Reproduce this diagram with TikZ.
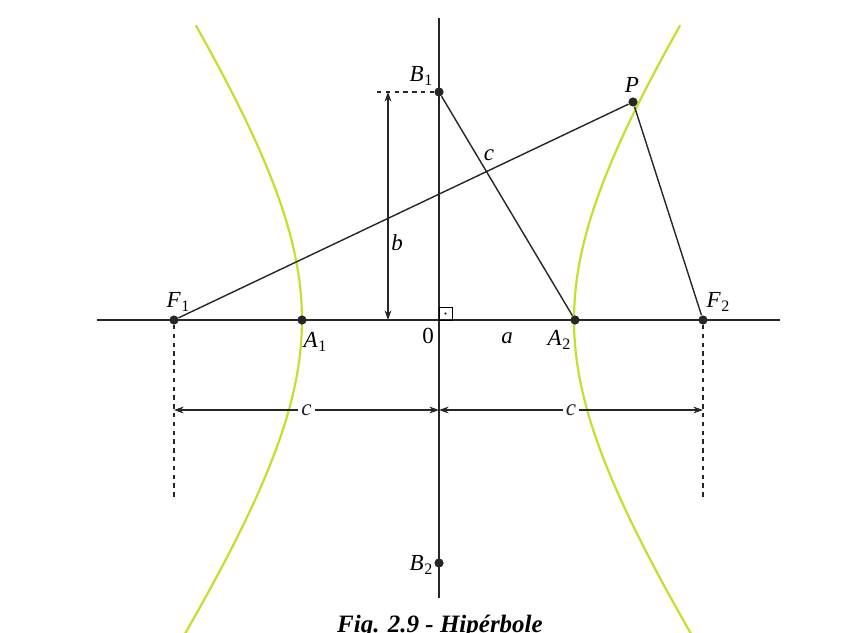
\documentclass[tikz,border=0pt]{standalone}
\usepackage{fontspec}
\setmainfont{Liberation Serif}
\usetikzlibrary{arrows.meta}
\definecolor{hyp}{RGB}{200,222,45}
\newcommand{\lab}[2]{\textit{#1}\kern0.3pt\raisebox{-0.4ex}{\fontsize{8}{9}\selectfont #2}}
\tikzset{
  dot/.style={circle,fill=black!85,inner sep=0pt,minimum size=4.6pt},
  lbl/.style={font=\fontsize{11.5}{13}\selectfont,inner sep=0pt},
  ln/.style={line width=0.7pt,black!85},
  hypline/.style={hyp,line width=1.1pt},
  dim/.style={line width=0.6pt,black!85,{Stealth[length=4.8pt,width=3.4pt]}-{Stealth[length=4.8pt,width=3.4pt]}},
  dsh/.style={line width=0.7pt,black!85,dash pattern=on 2.2pt off 2.2pt},
}
\begin{document}
\begin{tikzpicture}[x=0.5pt,y=-0.5pt]
\useasboundingbox[fill=white] (0,0) rectangle (854,632);
% hyperbola
\draw[hypline] plot[domain=-1.18:1.24,samples=90,variable=\t] ({438+136*cosh(\t)},{320+200*sinh(\t)});
\draw[hypline] plot[domain=-1.18:1.24,samples=90,variable=\t] ({438-136*cosh(\t)},{320+200*sinh(\t)});
% axes
\coordinate (xl) at (97,320);
\coordinate (xr) at (780,320);
\coordinate (yt) at (439,18);
\coordinate (yb) at (439,598);
\draw[ln] (xl) -- (xr);
\draw[ln] (yt) -- (yb);
% points
\node[dot] (F1) at (174,320) {};
\node[dot] (A1) at (302,320) {};
\node[dot] (A2) at (575,320) {};
\node[dot] (F2) at (703,320) {};
\node[dot] (B1) at (439,92) {};
\node[dot] (B2) at (439,563) {};
\node[dot] (P) at (633,102) {};
\coordinate (O) at (439,320);
% lines
\draw[ln] (F1) -- (P);
\draw[ln] (P) -- (F2);
\draw[ln] (B1) -- (A2);
% right angle
\draw[line width=0.5pt] (439,307) rectangle (452,320);
\fill (445.5,313.5) circle (0.6pt);
% b dimension
\coordinate (bl) at (377,92);
\draw[dsh] (bl) -- (B1);
\coordinate (bt) at (388,92);
\coordinate (bb) at (388,320);
\draw[dim] (bb) -- (bt);
% c dimensions
\coordinate (cL) at (174,410);
\coordinate (cM) at (439,410);
\coordinate (cR) at (703,410);
\draw[dim] (cL) -- node[fill=white,inner sep=1.5pt,font=\fontsize{11.5}{13}\selectfont]{\textit{c}} (cM);
\draw[dim] (cM) -- node[fill=white,inner sep=1.5pt,font=\fontsize{11.5}{13}\selectfont]{\textit{c}} (cR);
% dashed verticals
\coordinate (d1) at (174,500);
\coordinate (d2) at (703,500);
\draw[dsh] (F1) -- (d1);
\draw[dsh] (F2) -- (d2);
% labels
\node[lbl] (lB1) at (421,76) {\lab{B}{1}};
\node[lbl] (lP) at (632,85) {\textit{P}};
\node[lbl] (lc) at (489,155) {\textit{c}};
\node[lbl] (lb) at (397,243) {\textit{b}};
\node[lbl] (lF1) at (178,302) {\lab{F}{1}};
\node[lbl] (lA1) at (315,342) {\lab{A}{1}};
\node[lbl] (lO) at (428,336) {0};
\node[lbl] (la) at (507,338) {\textit{a}};
\node[lbl] (lA2) at (559,340) {\lab{A}{2}};
\node[lbl] (lF2) at (718,302) {\lab{F}{2}};
\node[lbl] (lB2) at (421,565) {\lab{B}{2}};
\node[anchor=base,inner sep=0pt] (cap) at (440,632) {\fontsize{12.5}{14}\selectfont\bfseries\itshape Fig. 2.9 - Hipérbole};
\end{tikzpicture}
\end{document}
